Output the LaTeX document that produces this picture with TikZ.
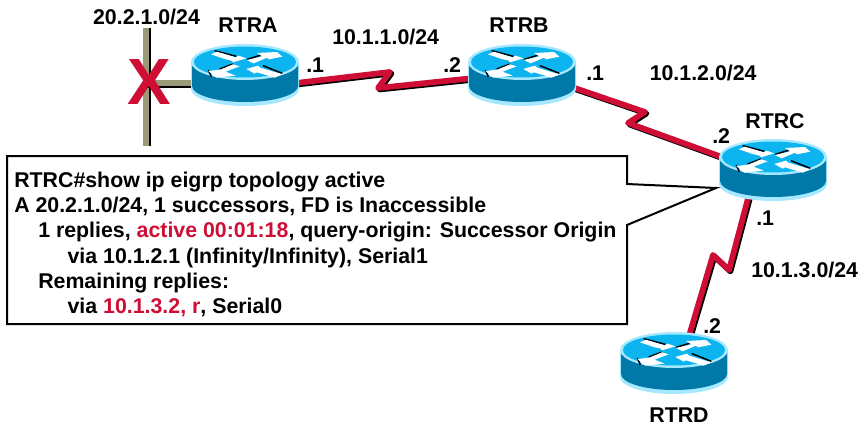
\documentclass[tikz,border=0pt]{standalone}
\usepackage{fontspec}
\setmainfont{Liberation Sans}
\usetikzlibrary{calc}
\definecolor{linkred}{HTML}{CE0E34}
\definecolor{lanolive}{HTML}{9B9A78}
\definecolor{rtop}{HTML}{0CB4F0}
\definecolor{rbody}{HTML}{0078A8}
\definecolor{redge}{HTML}{A6E8FF}
\tikzset{
  lbl/.style={anchor=base west,inner sep=0pt,font=\fontsize{16pt}{18pt}\bfseries},
  lblc/.style={anchor=base,inner sep=0pt,font=\fontsize{16pt}{18pt}\bfseries},
  routerbox/.style={inner sep=0pt,minimum width=80pt,minimum height=46pt},
  linkshadow/.style={draw=black,line width=4.3pt,line join=round,transform canvas={shift={(1.1pt,-1.1pt)}}},
  linkline/.style={draw=linkred,line width=4.3pt,line join=round},
  arrowshape/.style={fill=white,draw=none},
  arrowshade/.style={draw=black,line width=1.1pt},
  callout/.style={draw=black,line width=1.5pt,fill=white,line join=miter}
}
\newcommand{\drawrouter}[1]{%
  \begin{scope}[shift={(#1.center)}]
    \fill[redge] (-54,-13) -- (-54,14) arc[start angle=180,end angle=0,x radius=54,y radius=17] -- (54,-13) -- cycle;
    \fill[rbody] (-53,-13) -- (-53,11) arc[start angle=180,end angle=0,x radius=53,y radius=16] -- (53,-13) -- cycle;
    \fill[redge] (0,-13) ellipse[x radius=54,y radius=18];
    \fill[rtop] (0,-13) ellipse[x radius=51,y radius=15.5];
    \begin{scope}[scale=.33333,shift={(-186,-120)}]
      \draw[arrowshade] (95,47) -- (160,64);
      \draw[arrowshade] (193,73) -- (235,60);
      \draw[arrowshade] (150,87) -- (110,102);
      \draw[arrowshade] (76,105) -- (85,125);
      \draw[arrowshade] (240,92) -- (298,115);
      \fill[arrowshape] (84,58) -- (102,50) -- (158,67) -- (167,62) -- (190,70) -- (150,82) -- (146,77) -- (125,72) -- cycle;
      \fill[arrowshape] (192,75) -- (238,64) -- (222,54) -- (282,51) -- (298,65) -- (258,73) -- (252,68) -- (212,85) -- cycle;
      \fill[arrowshape] (150,88) -- (170,94) -- (128,110) -- (158,122) -- (100,128) -- (76,108) -- (112,104) -- cycle;
      \fill[arrowshape] (190,102) -- (225,92) -- (232,98) -- (298,118) -- (275,128) -- (222,112) -- (215,116) -- cycle;
    \end{scope}
  \end{scope}}
\begin{document}
\begin{tikzpicture}[x=.75pt,y=-.75pt]
\useasboundingbox (0,0) rectangle (858,429);
% router anchors
\node[routerbox] (RTRA) at (245,75) {};
\node[routerbox] (RTRB) at (522,75) {};
\node[routerbox] (RTRC) at (773,170) {};
\node[routerbox] (RTRD) at (674,363) {};
% LAN segment
\coordinate (lantop) at (146,28);
\coordinate (lanbot) at (146,146);
\coordinate (lanjoin) at (146,83);
\draw[black,line width=4.9pt] ([xshift=1.1pt]lantop) -- ([xshift=1.1pt]lanbot);
\draw[lanolive,line width=4pt] (lantop) -- (lanbot);
\draw[black,line width=4pt,transform canvas={yshift=-1.4pt}] (lanjoin) -- (RTRA.center |- lanjoin);
\draw[lanolive,line width=4.4pt] (lanjoin) -- (RTRA.center |- lanjoin);
% serial links
\coordinate (ab1) at (390,72);
\coordinate (ab2) at (378,88);
\coordinate (bc1) at (645,112);
\coordinate (bc2) at (628,123);
\coordinate (cd1) at (729,270);
\coordinate (cd2) at (713,255);
\foreach \st in {linkshadow,linkline}{
  \path[\st] ([shift={(0,14)}]RTRA.center) -- (ab1) -- (ab2) -- ([shift={(0,-2)}]RTRB.center);
  \path[\st] ([shift={(0,-5)}]RTRB.center) -- (bc1) -- (bc2) -- ([shift={(0,5.5)}]RTRC.center);
  \path[\st] ([shift={(-17.5,0)}]RTRC.center) -- (cd1) -- (cd2) -- ([shift={(7,0)}]RTRD.center);
}
\drawrouter{RTRA}
\drawrouter{RTRB}
\drawrouter{RTRC}
\drawrouter{RTRD}
% failure mark
\node[anchor=base,inner sep=0pt,text=linkred,font=\fontsize{49pt}{49pt}\bfseries] (fail) at (149,104) {X};
% callout
\path[callout] (7,156) -- (627,156) -- (627,184) -- (716,188) -- (627,225) -- (627,324) -- (7,324) -- cycle;
\node[anchor=north west,inner sep=0pt,align=left,font=\fontsize{16pt}{19pt}\bfseries] (cli) at (14,171.5) {%
RTRC\#show ip eigrp topology active\\
A 20.2.1.0/24, 1 successors, FD is Inaccessible\\
\hspace*{18pt}1 replies, \textcolor{linkred}{active 00:01:18}, query-origin: Successor Origin\\
\hspace*{40pt}via 10.1.2.1 (Infinity/Infinity), Serial1\\
\hspace*{18pt}Remaining replies:\\
\hspace*{40pt}via \textcolor{linkred}{10.1.3.2, r}, Serial0};
% labels
\node[lblc] (lnet) at (146.5,24) {20.2.1.0/24};
\node[lblc] (la) at (248,32) {RTRA};
\node[lblc] (lb) at (519,32) {RTRB};
\node[lblc] (lc) at (775,128) {RTRC};
\node[lblc] (ld) at (679,422) {RTRD};
\node[lbl] (n1) at (332,44) {10.1.1.0/24};
\node[lbl] (n2) at (649.5,80) {10.1.2.0/24};
\node[lbl] (n3) at (751,277) {10.1.3.0/24};
\node[lbl] (d1) at (306,72) {.1};
\node[lbl] (d2) at (443,72) {.2};
\node[lbl] (d3) at (586,80) {.1};
\node[lbl] (d4) at (712,143) {.2};
\node[lbl] (d5) at (756,225) {.1};
\node[lbl] (d6) at (703,333) {.2};
\end{tikzpicture}
\end{document}
